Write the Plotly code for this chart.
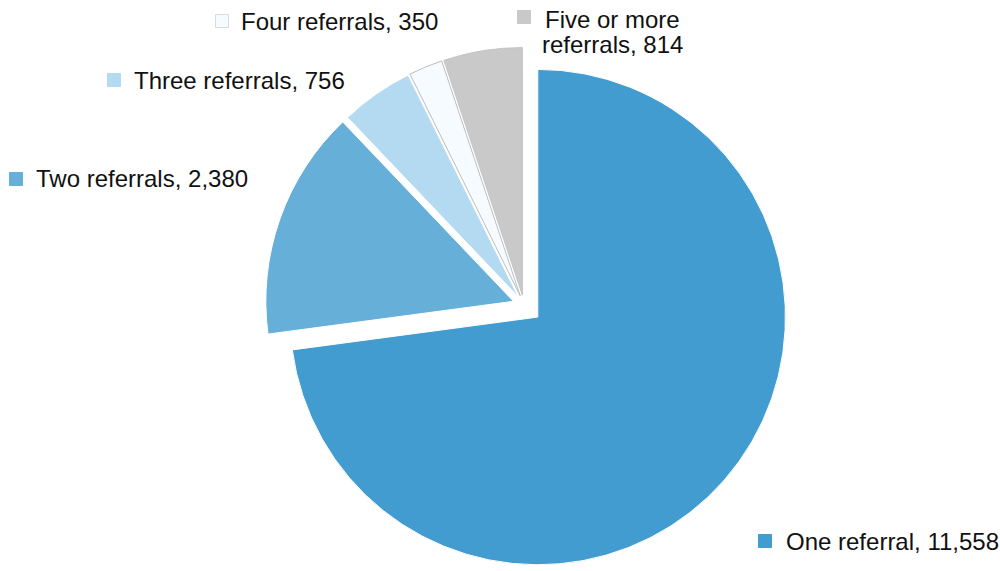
import plotly.graph_objects as go

# Referral counts per client
categories = ["One referral", "Two referrals", "Three referrals", "Four referrals", "Five or more referrals"]
counts = [11558, 2380, 756, 350, 814]
slice_colors = ["#439CD0", "#66AFD9", "#B3DAF0", "#F5FBFF", "#C9C9C9"]
edge_colors = ["#FFFFFF", "#FFFFFF", "#FFFFFF", "#BDBDBD", "#C4C4C4"]
pulls = [0.074, 0.045, 0.04, 0.04, 0.04]

W, H = 1000, 571
FONT = "Liberation Sans, Arial, sans-serif"
FONT_SIZE = 24

fig = go.Figure(
    go.Pie(
        labels=categories,
        values=counts,
        sort=False,
        direction="clockwise",
        rotation=0,
        pull=pulls,
        marker=dict(colors=slice_colors, line=dict(color=edge_colors, width=1)),
        textinfo="none",
        hoverinfo="label+value",
        domain=dict(x=[0.25, 0.798], y=[0.0, 0.9317]),
    )
)

# Data labels: (text lines, key square centre px, text anchor px, line step, alignment)
label_specs = [
    ([f"One referral, {counts[0]:,}"], (765, 541), (784, 541), 0, "left"),
    ([f"Two referrals, {counts[1]:,}"], (16, 179), (34, 179), 0, "left"),
    ([f"Three referrals, {counts[2]:,}"], (114, 80), (132, 80), 0, "left"),
    ([f"Four referrals, {counts[3]:,}"], (222, 21), (239, 22), 0, "left"),
    (["Five or more", f"referrals, {counts[4]:,}"], (524, 17), (612, 19), 26, "center"),
]


def px(x):
    return x / W


def py(y):
    return 1 - y / H


shapes = []
annotations = []
for i, (lines, (sx, sy), (tx, ty), step, align) in enumerate(label_specs):
    half = 6.5
    shapes.append(dict(
        type="rect", xref="paper", yref="paper",
        x0=px(sx - half), x1=px(sx + half), y0=py(sy + half), y1=py(sy - half),
        fillcolor=slice_colors[i],
        line=dict(color="#D9D9D9" if i == 3 else slice_colors[i], width=1),
    ))
    for k, line in enumerate(lines):
        annotations.append(dict(
            text=line, xref="paper", yref="paper",
            x=px(tx), y=py(ty + k * step),
            xanchor="left" if align == "left" else "center",
            yanchor="middle", align=align, showarrow=False,
            font=dict(family=FONT, size=FONT_SIZE, color="#111111"),
        ))

fig.update_layout(
    width=W, height=H,
    margin=dict(l=0, r=0, t=0, b=0),
    paper_bgcolor="white",
    plot_bgcolor="white",
    showlegend=False,
    shapes=shapes,
    annotations=annotations,
)

fig.write_html("out.html")
